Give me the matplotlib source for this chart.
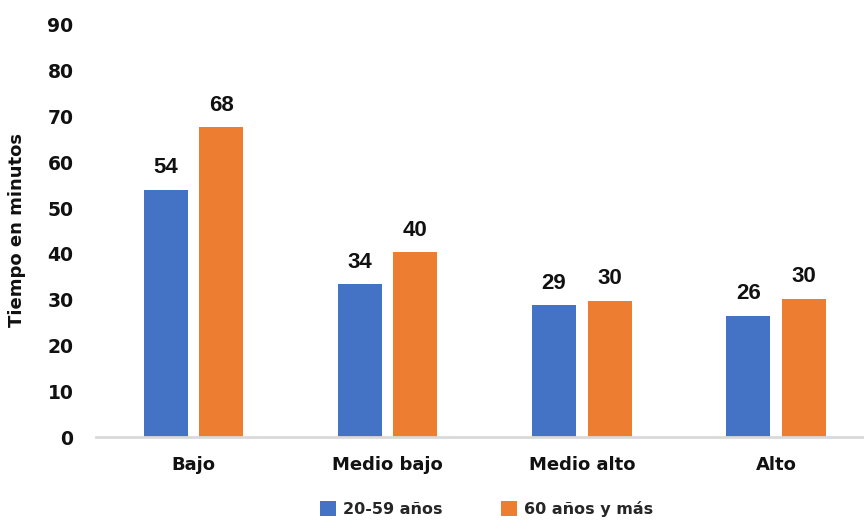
import matplotlib
matplotlib.use("Agg")
import matplotlib.pyplot as plt
import numpy as np

categories = ["Bajo", "Medio bajo", "Medio alto", "Alto"]
series_names = ["20-59 años", "60 años y más"]
values_20_59 = [54.0, 33.4, 28.8, 26.5]
values_60 = [67.7, 40.4, 29.8, 30.2]
labels_20_59 = ["54", "34", "29", "26"]
labels_60 = ["68", "40", "30", "30"]
yticks = [0, 10, 20, 30, 40, 50, 60, 70, 80, 90]

blue = "#4472C4"
orange = "#ED7D31"
MAIN = ["DejaVu Sans"]
LBL = ["Liberation Sans", "DejaVu Sans"]

plt.rcParams['font.family'] = MAIN

fig = plt.figure(figsize=(8.64, 5.2), dpi=100)
ax = fig.add_axes([0.1116, 0.1596, 0.899, 0.7924])

x = np.arange(len(categories))
w = 0.2266
off = 0.143
b1 = ax.bar(x - off, values_20_59, w, color=blue, label=series_names[0])
b2 = ax.bar(x + off, values_60, w, color=orange, label=series_names[1])

for rects, labs in ((b1, labels_20_59), (b2, labels_60)):
    for r, lab in zip(rects, labs):
        ax.text(r.get_x() + r.get_width() / 2, r.get_height() + 3.6, lab,
                ha="center", va="baseline", fontsize=16, fontweight="bold",
                family=LBL, color="#111111")

ax.set_xlim(-0.5, len(categories) - 0.5)
ax.set_ylim(0, 90)
ax.set_yticks(yticks)
ax.set_yticklabels([str(t) for t in yticks], fontsize=13.5, fontweight="bold")
ax.set_xticks(x)
ax.set_xticklabels(categories, fontsize=13, fontweight="bold")
ax.tick_params(axis="y", length=0, pad=16.5, colors="#111111")
ax.tick_params(axis="x", length=0, pad=14, colors="#111111")
for s in ("top", "right", "left"):
    ax.spines[s].set_visible(False)
ax.spines["bottom"].set_color("#D9D9D9")
ax.spines["bottom"].set_linewidth(2)

fig.text(0.02, 0.558, "Tiempo en minutos", rotation=90, ha="center", va="center",
         fontsize=13, fontweight="bold", color="#111111")

leg = fig.legend(handles=[b1, b2], loc="center", bbox_to_anchor=(0.563, 0.021),
                 ncol=2, frameon=False, fontsize=11.5, handlelength=1.0, handleheight=1.0,
                 columnspacing=3.7, handletextpad=0.4)
for t in leg.get_texts():
    t.set_fontweight("bold")
    t.set_color("#262626")

fig.savefig("out.png", dpi=100)
